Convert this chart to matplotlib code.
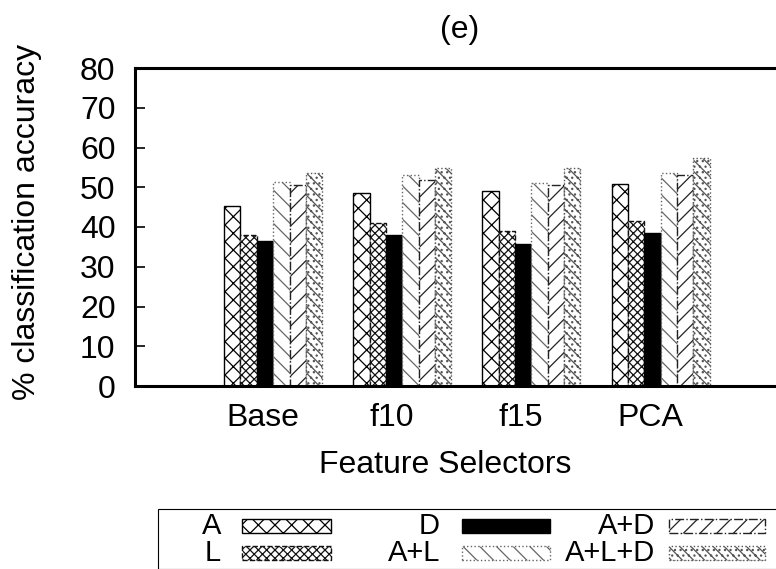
import numpy as np
import matplotlib
matplotlib.use("Agg")
import matplotlib.pyplot as plt
from matplotlib.patches import Rectangle

plt.rcParams['font.family'] = ['Liberation Sans', 'DejaVu Sans']
plt.rcParams['hatch.linewidth'] = 0.9

selectors = ['Base', 'f10', 'f15', 'PCA']
series = ['A', 'L', 'D', 'A+L', 'A+D', 'A+L+D']
acc_A = [45.4, 48.5, 49.0, 50.8]
acc_L = [38.1, 40.9, 39.1, 41.4]
acc_D = [36.4, 38.1, 35.6, 38.4]
acc_AL = [51.3, 53.0, 51.0, 53.5]
acc_AD = [50.5, 51.8, 50.5, 53.0]
acc_ALD = [53.5, 54.8, 54.8, 57.3]
values = [acc_A, acc_L, acc_D, acc_AL, acc_AD, acc_ALD]

# look of each series: face, edge, hatch, linestyle
styles = [
    dict(facecolor='white', edgecolor='black', hatch='xx', linestyle='-'),
    dict(facecolor='white', edgecolor='#111111', hatch='xxxx', linestyle='--'),
    dict(facecolor='black', edgecolor='black', hatch=None, linestyle='-'),
    dict(facecolor='white', edgecolor='#666666', hatch='\\\\', linestyle=':'),
    dict(facecolor='white', edgecolor='#222222', hatch='//', linestyle='-.'),
    dict(facecolor='white', edgecolor='#555555', hatch='\\\\\\...', linestyle=':'),
]

FS = 23
W, H = 776, 569
fig = plt.figure(figsize=(W / 100, H / 100), dpi=100)
ax = fig.add_axes([135 / W, 1 - 386 / H, (800 - 135) / W, (386 - 68) / H])

x = np.arange(len(selectors))
bw = 0.1266
for i, (vals, st) in enumerate(zip(values, styles)):
    ax.bar(x + (i - 2.5) * bw, vals, bw, linewidth=1.0, **st)

ax.set_xlim(-1.07, 4.08)
ax.set_ylim(0, 80)
ax.set_yticks(range(0, 81, 10))
ax.set_xticks(x - 0.08)
ax.set_xticklabels(selectors)
ax.tick_params(axis='y', direction='in', length=7, width=1.2, labelsize=FS, pad=14)
ax.tick_params(axis='x', length=0, labelsize=FS, pad=12)
for s in ax.spines.values():
    s.set_linewidth(2.2)

fig.text(445 / W, 1 - 465 / H, 'Feature Selectors', ha='center', va='center', fontsize=FS)
fig.text(27 / W, 1 - 222 / H, '% classification accuracy', rotation=90,
         ha='center', va='center', fontsize=FS)
fig.text(460 / W, 1 - 30 / H, '(e)', ha='center', va='center', fontsize=FS)

# key box below the plot
fig.add_artist(Rectangle((158 / W, 0), (W + 10 - 158) / W, (H - 509) / H,
                         transform=fig.transFigure, fill=False,
                         edgecolor='black', linewidth=0.8))
key_names = ['A', 'L', 'D', 'A+L', 'A+D', 'A+L+D']
text_right = [221, 221, 440, 440, 655, 655]
sample_left = [242, 242, 462, 462, 669, 669]
sample_w = [89, 89, 88, 88, 96, 96]
rows = [526, 553]
row_of = [0, 1, 0, 1, 0, 1]
for k, name in enumerate(key_names):
    i = series.index(name)
    yc = rows[row_of[k]]
    fig.text(text_right[k] / W, 1 - yc / H, name, ha='right', va='center', fontsize=21)
    fig.add_artist(Rectangle((sample_left[k] / W, 1 - (yc + 7) / H),
                             sample_w[k] / W, 14 / H, transform=fig.transFigure,
                             linewidth=1.0, **styles[i]))

fig.savefig('out.png', dpi=100)
